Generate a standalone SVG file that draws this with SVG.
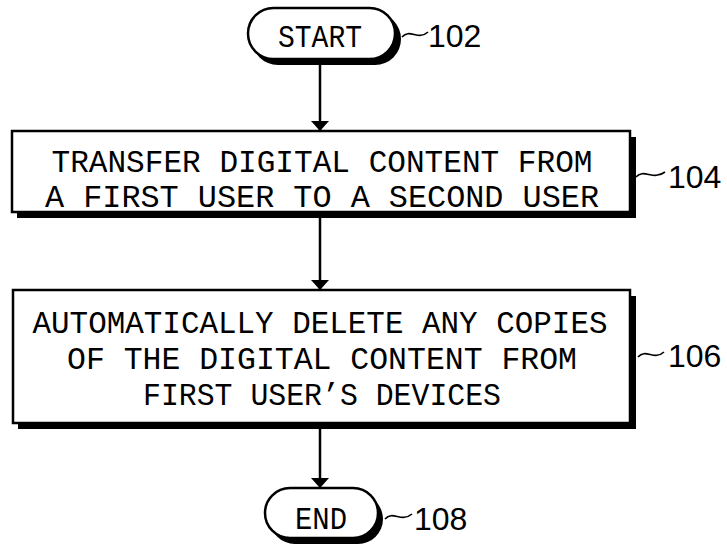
<svg xmlns="http://www.w3.org/2000/svg" width="727" height="551" viewBox="0 0 727 551">
<defs>
<style>
.sh{fill:#000}
.bx{fill:#fff;stroke:#000;stroke-width:2.5}
.t{font-family:"Liberation Mono","DejaVu Sans Mono",monospace;font-size:31px;fill:#000;text-anchor:middle}
.lb{font-family:"Liberation Sans",Arial,sans-serif;font-size:32px;fill:#000}
.cn{stroke:#000;stroke-width:2.5;fill:none}
.td{stroke:#000;stroke-width:1.6;fill:none}
</style>
<marker id="ah" viewBox="0 0 10 18" refX="10" refY="9" markerWidth="10" markerHeight="18" markerUnits="userSpaceOnUse" orient="auto">
<path d="M0,0 L10,9 L0,18 Z" fill="#000"/>
</marker>
</defs>
<rect width="727" height="551" fill="#fff"/>
<g id="connectors">
<line class="cn" x1="320" y1="64" x2="320" y2="131" marker-end="url(#ah)"/>
<line class="cn" x1="320" y1="217" x2="320" y2="290" marker-end="url(#ah)"/>
<line class="cn" x1="320" y1="428" x2="320" y2="488" marker-end="url(#ah)"/>
</g>
<g id="n102">
<rect class="sh" x="252" y="13" width="149" height="52" rx="26"/>
<rect class="bx" x="248" y="8" width="147" height="51" rx="25.5"/>
<text class="t" x="320" y="47" font-size="32" textLength="84" lengthAdjust="spacingAndGlyphs">START</text>
<path class="td" d="M402,37 C410,28 418,41 428,32"/>
<text class="lb" x="428" y="47" font-size="31">102</text>
</g>
<g id="n104">
<rect class="sh" x="17" y="137" width="619" height="81"/>
<rect class="bx" x="12" y="131" width="618" height="81"/>
<text class="t" x="322" y="172" textLength="541" lengthAdjust="spacingAndGlyphs">TRANSFER DIGITAL CONTENT FROM</text>
<text class="t" x="322" y="207" textLength="554" lengthAdjust="spacingAndGlyphs">A FIRST USER TO A SECOND USER</text>
<path class="td" d="M636,177 C644,168 653,181 665,172"/>
<text class="lb" x="668" y="188">104</text>
</g>
<g id="n106">
<rect class="sh" x="18" y="296" width="618" height="133"/>
<rect class="bx" x="13" y="290" width="617" height="133"/>
<text class="t" x="320" y="333" textLength="575" lengthAdjust="spacingAndGlyphs">AUTOMATICALLY DELETE ANY COPIES</text>
<text class="t" x="322" y="369" textLength="510" lengthAdjust="spacingAndGlyphs">OF THE DIGITAL CONTENT FROM</text>
<text class="t" x="322" y="405" textLength="358" lengthAdjust="spacingAndGlyphs">FIRST USER’S DEVICES</text>
<path class="td" d="M638,357 C646,348 654,361 664,352"/>
<text class="lb" x="668" y="367">106</text>
</g>
<g id="n108">
<rect class="sh" x="270" y="494" width="113" height="50" rx="25"/>
<rect class="bx" x="265" y="488" width="113" height="50" rx="25"/>
<text class="t" x="321" y="529" font-size="34" textLength="52" lengthAdjust="spacingAndGlyphs">END</text>
<path class="td" d="M385,519 C393,510 401,523 412,514"/>
<text class="lb" x="414" y="530">108</text>
</g>
</svg>
